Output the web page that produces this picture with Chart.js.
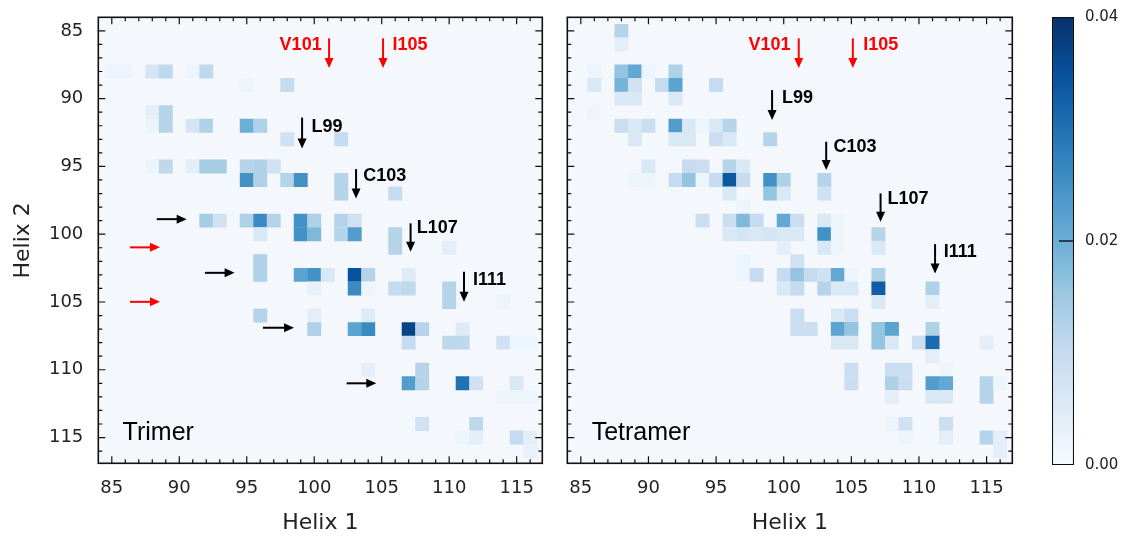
<!DOCTYPE html>
<html>
<head>
<meta charset="utf-8">
<script src="https://cdn.jsdelivr.net/npm/chart.js@4.4.1/dist/chart.umd.min.js"></script>
<style>
  html, body { margin: 0; padding: 0; background: #fff; }
  .box { position: absolute; top: 0; height: 536px; }
  #trimerBox { left: 0; width: 548px; }
  #tetramerBox { left: 548px; width: 480px; }
  #barBox { left: 1028px; width: 97px; }
</style>
</head>
<body>
<div class="box" id="trimerBox"><canvas id="trimer" width="548" height="536"></canvas></div>
<div class="box" id="tetramerBox"><canvas id="tetramer" width="480" height="536"></canvas></div>
<div class="box" id="barBox"><canvas id="colorbar" width="97" height="536"></canvas></div>
<script>
// residue axis
const helixTicks = [85, 90, 95, 100, 105, 110, 115];
const colorTicks = [0, 0.02, 0.04];

// Trimer contacts: Helix 1 residue, Helix 2 residue, contact frequency
const trimerH1 = [85, 86, 88, 89, 91, 92, 95, 98, 85, 86, 88, 89, 88, 89, 91, 92, 93, 95, 96, 98, 102,
  88, 89, 91, 92, 93, 95, 96, 97, 95, 96, 98, 99, 102, 102, 106,
  92, 93, 95, 96, 97, 99, 100, 102, 103, 96, 99, 100, 102, 103, 106, 106, 110, 96,
  96, 99, 100, 101, 103, 104, 107, 100, 103, 104, 106, 107, 110, 110, 114, 96, 100, 104,
  100, 103, 104, 107, 108, 111, 107, 110, 111, 114, 115, 116, 104, 108,
  107, 108, 111, 112, 115, 114, 115, 116, 108, 112, 111, 112, 115, 116, 116];
const trimerH2 = [88, 88, 88, 88, 88, 88, 89, 89, 91, 91, 91, 91, 92, 92, 92, 92, 92, 92, 92, 93, 93,
  95, 95, 95, 95, 95, 95, 95, 95, 96, 96, 96, 96, 96, 97, 97,
  99, 99, 99, 99, 99, 99, 99, 99, 99, 100, 100, 100, 100, 100, 100, 101, 101, 102,
  103, 103, 103, 103, 103, 103, 103, 104, 104, 104, 104, 104, 104, 105, 105, 106, 106, 106,
  107, 107, 107, 107, 107, 107, 108, 108, 108, 108, 108, 108, 110, 110,
  111, 111, 111, 111, 111, 112, 112, 112, 114, 114, 115, 115, 115, 115, 116];
const trimerVal = [0.002, 0.002, 0.007, 0.011, 0.002, 0.011, 0.002, 0.010, 0.001, 0.001, 0.004, 0.012,
  0.002, 0.012, 0.007, 0.013, 0.001, 0.020, 0.013, 0.008, 0.010,
  0.002, 0.011, 0.004, 0.014, 0.014, 0.012, 0.013, 0.008, 0.025, 0.013, 0.012, 0.025, 0.012, 0.012, 0.010,
  0.014, 0.008, 0.013, 0.026, 0.012, 0.025, 0.013, 0.012, 0.008, 0.006, 0.025, 0.018, 0.012, 0.023, 0.012,
  0.012, 0.004, 0.013,
  0.013, 0.022, 0.025, 0.006, 0.035, 0.012, 0.005, 0.003, 0.026, 0.002, 0.010, 0.011, 0.012, 0.012, 0.002,
  0.012, 0.004, 0.005,
  0.013, 0.022, 0.026, 0.037, 0.012, 0.005, 0.010, 0.011, 0.011, 0.008, 0.002, 0.002, 0.004, 0.012,
  0.023, 0.012, 0.030, 0.008, 0.006, 0.002, 0.002, 0.002, 0.008, 0.011, 0.002, 0.004, 0.010, 0.004, 0.003];

// Tetramer contacts
const tetramerH1 = [88, 88, 86, 88, 89, 90, 92, 85, 86, 88, 89, 91, 92, 95, 88, 89, 92, 86,
  88, 89, 90, 92, 93, 94, 95, 96, 89, 92, 93, 95, 96, 99, 90, 93, 94, 96, 97,
  89, 90, 92, 93, 94, 95, 96, 97, 99, 100, 103, 96, 99, 100, 103, 97,
  94, 96, 97, 98, 100, 101, 103, 104, 96, 97, 98, 99, 100, 101, 103, 104, 107,
  100, 103, 104, 107, 97, 101, 97, 98, 100, 101, 102, 103, 104, 105, 107,
  100, 101, 103, 104, 105, 107, 111, 107, 111, 101, 104, 105,
  101, 102, 104, 105, 107, 108, 111, 104, 105, 107, 108, 110, 111, 115, 111,
  105, 108, 109, 112, 105, 108, 109, 111, 112, 115, 116, 108, 111, 112, 115,
  108, 109, 112, 109, 112, 115, 116, 116];
const tetramerH2 = [85, 86, 88, 88, 88, 88, 88, 89, 89, 89, 89, 89, 89, 89, 90, 90, 90, 91,
  92, 92, 92, 92, 92, 92, 92, 92, 93, 93, 93, 93, 93, 93, 95, 95, 95, 95, 95,
  96, 96, 96, 96, 96, 96, 96, 96, 96, 96, 96, 97, 97, 97, 97, 98,
  99, 99, 99, 99, 99, 99, 99, 99, 100, 100, 100, 100, 100, 100, 100, 100, 100,
  101, 101, 101, 101, 102, 102, 103, 103, 103, 103, 103, 103, 103, 103, 103,
  104, 104, 104, 104, 104, 104, 104, 105, 105, 106, 106, 106,
  107, 107, 107, 107, 107, 107, 107, 108, 108, 108, 108, 108, 108, 108, 109,
  110, 110, 110, 110, 111, 111, 111, 111, 111, 111, 111, 112, 112, 112, 112,
  114, 114, 114, 115, 115, 115, 115, 116];
const tetramerVal = [0.012, 0.004, 0.002, 0.016, 0.021, 0.002, 0.013, 0.001, 0.006, 0.019, 0.008, 0.010,
  0.022, 0.010, 0.006, 0.006, 0.006, 0.002,
  0.009, 0.006, 0.009, 0.023, 0.006, 0.002, 0.006, 0.012, 0.006, 0.006, 0.006, 0.009, 0.006, 0.012,
  0.006, 0.010, 0.009, 0.012, 0.006,
  0.002, 0.002, 0.010, 0.016, 0.002, 0.010, 0.034, 0.010, 0.025, 0.013, 0.012, 0.006, 0.016, 0.006, 0.008,
  0.002,
  0.009, 0.009, 0.018, 0.010, 0.021, 0.009, 0.006, 0.002, 0.006, 0.007, 0.006, 0.007, 0.006, 0.006, 0.025,
  0.002, 0.012,
  0.004, 0.006, 0.002, 0.006, 0.002, 0.008, 0.002, 0.010, 0.010, 0.016, 0.010, 0.008, 0.021, 0.002, 0.013,
  0.006, 0.010, 0.012, 0.006, 0.006, 0.033, 0.013, 0.006, 0.004, 0.009, 0.006, 0.009,
  0.009, 0.009, 0.022, 0.016, 0.016, 0.022, 0.013, 0.006, 0.006, 0.016, 0.006, 0.009, 0.031, 0.004, 0.004,
  0.009, 0.009, 0.009, 0.002, 0.009, 0.013, 0.009, 0.023, 0.021, 0.012, 0.002, 0.004, 0.006, 0.006, 0.012,
  0.002, 0.008, 0.009, 0.002, 0.004, 0.012, 0.004, 0.004];

const RED = '#ff0000';
const BLACK = '#000000';

// arrows and residue labels, in data coordinates
const trimerArrows = [
  [101.1, 85.55, 101.1, 87.74, RED], [105.1, 85.55, 105.1, 87.74, RED],
  [99.1, 91.4, 99.1, 93.67, BLACK], [103.1, 95.2, 103.1, 97.36, BLACK],
  [107.14, 99.2, 107.14, 101.3, BLACK], [111.1, 102.77, 111.1, 104.99, BLACK],
  [88.33, 98.89, 90.55, 98.89, BLACK], [91.9, 102.85, 94.1, 102.85, BLACK],
  [96.2, 106.9, 98.5, 106.9, BLACK], [102.4, 111.0, 104.6, 111.0, BLACK],
  [86.35, 100.97, 88.57, 100.97, RED], [86.35, 104.99, 88.57, 104.99, RED]
];
const trimerLabels = [
  ['V101', 100.55, 86.04, 'right', RED], ['I105', 105.8, 86.04, 'left', RED],
  ['L99', 99.8, 92.07, 'left', BLACK], ['C103', 103.63, 95.69, 'left', BLACK],
  ['L107', 107.6, 99.57, 'left', BLACK], ['I111', 111.76, 103.39, 'left', BLACK]
];
const tetramerArrows = [
  [101.11, 85.55, 101.11, 87.74, RED], [105.11, 85.55, 105.11, 87.74, RED],
  [99.14, 89.37, 99.14, 91.58, BLACK], [103.14, 93.18, 103.14, 95.27, BLACK],
  [107.16, 96.99, 107.16, 99.08, BLACK], [111.19, 100.73, 111.19, 102.89, BLACK]
];
const tetramerLabels = [
  ['V101', 100.5, 86.04, 'right', RED], ['I105', 105.88, 86.04, 'left', RED],
  ['L99', 99.88, 89.98, 'left', BLACK], ['C103', 103.68, 93.55, 'left', BLACK],
  ['L107', 107.68, 97.43, 'left', BLACK], ['I111', 111.83, 101.3, 'left', BLACK]
];

const vMax = 0.04;
const blues = ['#f7fbff', '#deebf7', '#c6dbef', '#9ecae1', '#6baed6', '#4292c6', '#2171b5', '#08519c', '#08306b'];
const bgColor = '#f4f7fc';

const hexRgb = h => [1, 3, 5].map(i => parseInt(h.slice(i, i + 2), 16));
const blueFor = v => {
  const t = Math.max(0, Math.min(1, v / vMax)) * (blues.length - 1);
  const i = Math.min(Math.floor(t), blues.length - 2);
  const f = t - i;
  const a = hexRgb(blues[i]), b = hexRgb(blues[i + 1]);
  const c = a.map((x, k) => Math.round(x + (b[k] - x) * f));
  return `rgb(${c[0]},${c[1]},${c[2]})`;
};

const tickFont = { family: 'DejaVu Sans', size: 18 };
const titleFont = { family: 'DejaVu Sans', size: 22 };

// stop the tick labels from shrinking the plot area
const noPad = s => { s.paddingTop = 0; s.paddingBottom = 0; s.paddingLeft = 0; s.paddingRight = 0; };

// background, frame with inward ticks, arrows and labels
const panelPlugin = {
  id: 'panel',
  beforeDatasetsDraw(chart) {
    const { ctx, chartArea: a } = chart;
    ctx.save();
    ctx.fillStyle = bgColor;
    ctx.fillRect(a.left, a.top, a.right - a.left, a.bottom - a.top);
    ctx.restore();
  },
  afterDatasetsDraw(chart, args, opts) {
    const { ctx, scales: { x, y } } = chart;
    ctx.save();
    opts.arrows.forEach(([x0, y0, x1, y1, color]) => {
      const px0 = x.getPixelForValue(x0), py0 = y.getPixelForValue(y0);
      const px1 = x.getPixelForValue(x1), py1 = y.getPixelForValue(y1);
      const ang = Math.atan2(py1 - py0, px1 - px0);
      const head = 10, half = 4.5;
      ctx.strokeStyle = color;
      ctx.fillStyle = color;
      ctx.lineWidth = 2;
      ctx.beginPath();
      ctx.moveTo(px0, py0);
      ctx.lineTo(px1 - Math.cos(ang) * head * 0.8, py1 - Math.sin(ang) * head * 0.8);
      ctx.stroke();
      ctx.beginPath();
      ctx.moveTo(px1, py1);
      ctx.lineTo(px1 - Math.cos(ang) * head - Math.sin(ang) * half, py1 - Math.sin(ang) * head + Math.cos(ang) * half);
      ctx.lineTo(px1 - Math.cos(ang) * head + Math.sin(ang) * half, py1 - Math.sin(ang) * head - Math.cos(ang) * half);
      ctx.closePath();
      ctx.fill();
    });
    ctx.font = 'bold 18px "Liberation Sans", Arial, sans-serif';
    ctx.textBaseline = 'middle';
    opts.labels.forEach(([text, lx, ly, align, color]) => {
      ctx.fillStyle = color;
      ctx.textAlign = align;
      ctx.fillText(text, x.getPixelForValue(lx), y.getPixelForValue(ly));
    });
    ctx.font = '25px "Liberation Sans", Arial, sans-serif';
    ctx.fillStyle = '#000';
    ctx.textAlign = 'left';
    ctx.fillText(opts.name, x.getPixelForValue(85.8), y.getPixelForValue(114.7));
    ctx.restore();
  },
  afterDraw(chart) {
    const { ctx, chartArea: a, scales: { x, y } } = chart;
    ctx.save();
    ctx.strokeStyle = '#111';
    ctx.lineWidth = 1.2;
    ctx.beginPath();
    for (let v = 85; v <= 116; v++) {
      const len = v % 5 === 0 ? 7 : 4;
      const px = x.getPixelForValue(v), py = y.getPixelForValue(v);
      ctx.moveTo(px, a.bottom); ctx.lineTo(px, a.bottom - len);
      ctx.moveTo(px, a.top); ctx.lineTo(px, a.top + len);
      ctx.moveTo(a.left, py); ctx.lineTo(a.left + len, py);
      ctx.moveTo(a.right, py); ctx.lineTo(a.right - len, py);
    }
    ctx.stroke();
    ctx.lineWidth = 1.6;
    ctx.strokeRect(a.left, a.top, a.right - a.left, a.bottom - a.top);
    ctx.restore();
  }
};

const cellRadius = ctx => {
  const s = ctx.chart.scales.x;
  return Math.abs(s.getPixelForValue(1) - s.getPixelForValue(0)) / Math.SQRT2 + 0.3;
};

const makePanel = (id, name, h1, h2, vals, arrows, labels, yWidth, padRight, showY) => new Chart(document.getElementById(id), {
  type: 'scatter',
  data: {
    datasets: [{
      data: h1.map((x, i) => ({ x, y: h2[i], v: vals[i] })),
      pointStyle: 'rect',
      pointRadius: cellRadius,
      pointHoverRadius: cellRadius,
      pointBorderWidth: 0,
      pointBackgroundColor: ctx => blueFor(ctx.raw ? ctx.raw.v : 0)
    }]
  },
  options: {
    responsive: false,
    animation: false,
    events: [],
    layout: { padding: { top: 17.3, right: padRight, left: 0, bottom: 0 } },
    plugins: {
      legend: { display: false },
      tooltip: { enabled: false },
      panel: { name, arrows, labels }
    },
    scales: {
      x: {
        type: 'linear', min: 84, max: 116.9,
        afterBuildTicks: s => { s.ticks = helixTicks.map(value => ({ value })); },
        afterFit: s => { s.height = 72.7; noPad(s); },
        grid: { display: false, drawTicks: false },
        border: { display: false },
        ticks: { font: tickFont, color: '#222', padding: 14 },
        title: { display: true, text: 'Helix 1', font: titleFont, color: '#222', padding: { top: 0, bottom: 0 } }
      },
      y: {
        type: 'linear', reverse: true, min: 84, max: 116.9,
        afterBuildTicks: s => { s.ticks = helixTicks.map(value => ({ value })); },
        afterFit: s => { s.width = yWidth; noPad(s); },
        grid: { display: false, drawTicks: false },
        border: { display: false },
        ticks: { display: showY, font: tickFont, color: '#222', padding: 15 },
        title: { display: showY, text: 'Helix 2', font: titleFont, color: '#222', padding: { top: 10, bottom: 0 } }
      }
    }
  },
  plugins: [panelPlugin]
});

makePanel('trimer', 'Trimer', trimerH1, trimerH2, trimerVal, trimerArrows, trimerLabels, 98.3, 5.7, true);
makePanel('tetramer', 'Tetramer', tetramerH1, tetramerH2, tetramerVal, tetramerArrows, tetramerLabels, 19.3, 15.7, false);

// colour bar
const barTick = {
  id: 'barTick',
  afterDraw(chart) {
    const { ctx, chartArea: a, scales: { y } } = chart;
    const py = y.getPixelForValue(0.02);
    ctx.save();
    ctx.strokeStyle = '#111';
    ctx.lineWidth = 1.4;
    ctx.beginPath();
    ctx.moveTo(a.right, py);
    ctx.lineTo(a.right - 15, py);
    ctx.stroke();
    ctx.restore();
  }
};

new Chart(document.getElementById('colorbar'), {
  type: 'bar',
  data: {
    labels: [''],
    datasets: [{
      data: [[0, vMax]],
      backgroundColor: ctx => {
        const a = ctx.chart.chartArea;
        if (!a) return blues[4];
        const g = ctx.chart.ctx.createLinearGradient(0, a.bottom, 0, a.top);
        blues.forEach((c, i) => g.addColorStop(i / (blues.length - 1), c));
        return g;
      },
      borderColor: '#111',
      borderWidth: 1.4,
      borderSkipped: false,
      barPercentage: 1,
      categoryPercentage: 1
    }]
  },
  options: {
    responsive: false,
    animation: false,
    events: [],
    layout: { padding: { top: 17, bottom: 71, left: 24, right: 0 } },
    plugins: { legend: { display: false }, tooltip: { enabled: false } },
    scales: {
      x: { display: false },
      y: {
        position: 'right', min: 0, max: vMax,
        afterBuildTicks: s => { s.ticks = colorTicks.map(value => ({ value })); },
        afterFit: s => { s.width = 51; noPad(s); },
        grid: { display: false, drawTicks: false },
        border: { display: false },
        ticks: { font: { family: 'DejaVu Sans', size: 15 }, color: '#222', padding: 11, callback: v => v.toFixed(2) }
      }
    }
  },
  plugins: [barTick]
});
</script>
</body>
</html>
